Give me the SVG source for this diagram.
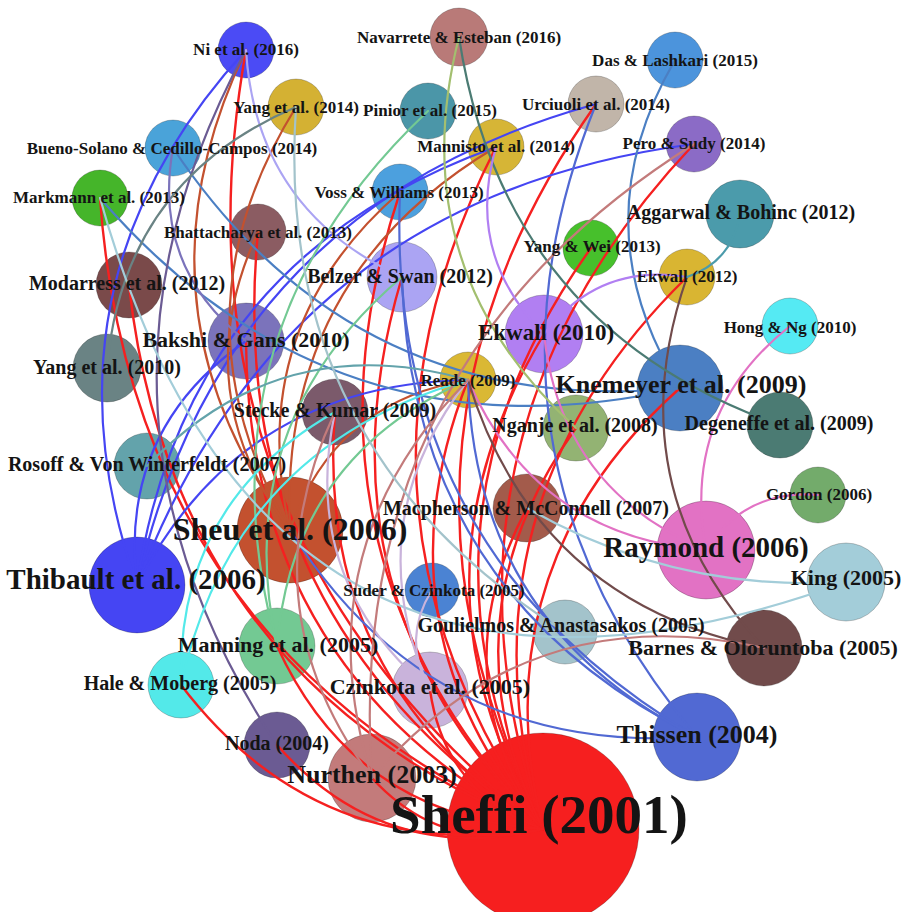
<svg xmlns="http://www.w3.org/2000/svg" width="904" height="912" viewBox="0 0 904 912">
<style>
.bg{fill:#ffffff}
.node circle{stroke:rgba(0,0,0,0.22);stroke-width:1}
.e{fill:none;stroke-width:2.2;stroke-linecap:round}
.red{stroke:#f52020;stroke-width:2.4}
.thi{stroke:#4545f3}
.sheu{stroke:#c3512f}
.kne{stroke:#4b7fc3}
.this{stroke:#5169d3}
.ray{stroke:#e272c4}
.bar{stroke:#714b4b}
.deg{stroke:#4b7b73}
.nga{stroke:#a3bf6f}
.noda{stroke:#6b5b93}
.bel{stroke:#aba4f3}
.man{stroke:#73c993}
.hale{stroke:#53e9e9}
.ros{stroke:#63a3ab}
.y10{stroke:#6a8384}
.king{stroke:#a3cdd9}
.czi{stroke:#c9b3db}
.nur{stroke:#c37b7b}
.ek10{stroke:#b17ff2}
.agg{stroke:#4b9bab}
.bak{stroke:#7b73bb}
.gou{stroke:#a3c3cb}
.lb{font-family:"Liberation Serif","Times New Roman",serif;font-weight:bold;fill:#141414;text-anchor:middle}
.s17{font-size:17px}.s20{font-size:20px}.s22{font-size:22px}.s23{font-size:23px}.s26{font-size:26px}.s29{font-size:29px}.s32{font-size:32px}.s55{font-size:55px}
</style>
<rect class="bg" x="0" y="0" width="904" height="912"/>
<g id="nodes">
<g id="node-ni" class="node"><circle cx="246" cy="50" r="28" fill="#4b4bf5"/></g>
<g id="node-yang2014" class="node"><circle cx="296" cy="107" r="28" fill="#d4b133"/></g>
<g id="node-navarrete" class="node"><circle cx="459" cy="37" r="29" fill="#b97a78"/></g>
<g id="node-pinior" class="node"><circle cx="428" cy="111" r="28" fill="#4b96a8"/></g>
<g id="node-urciuoli" class="node"><circle cx="596" cy="104" r="28" fill="#c1b5a9"/></g>
<g id="node-das" class="node"><circle cx="675" cy="60" r="28" fill="#4c94dc"/></g>
<g id="node-mannisto" class="node"><circle cx="496" cy="147" r="28" fill="#d6b536"/></g>
<g id="node-pero" class="node"><circle cx="694" cy="144" r="28" fill="#8b6bc6"/></g>
<g id="node-bueno" class="node"><circle cx="173" cy="148" r="28" fill="#4aa3d9"/></g>
<g id="node-markmann" class="node"><circle cx="100" cy="198" r="28" fill="#45b52a"/></g>
<g id="node-voss" class="node"><circle cx="400" cy="192" r="28" fill="#4ca0de"/></g>
<g id="node-bhattacharya" class="node"><circle cx="258" cy="232" r="28" fill="#8b5c62"/></g>
<g id="node-yangwei" class="node"><circle cx="591" cy="248" r="28" fill="#47c02c"/></g>
<g id="node-aggarwal" class="node"><circle cx="740" cy="214" r="34" fill="#4b9bab"/></g>
<g id="node-ekwall2012" class="node"><circle cx="687" cy="277" r="28" fill="#d9b532"/></g>
<g id="node-modarress" class="node"><circle cx="129" cy="285" r="33" fill="#7a4a4a"/></g>
<g id="node-belzer" class="node"><circle cx="402" cy="277" r="35" fill="#aba4f3"/></g>
<g id="node-ekwall2010" class="node"><circle cx="544" cy="334" r="39" fill="#b17ff2"/></g>
<g id="node-hongng" class="node"><circle cx="790" cy="326" r="28" fill="#55eaf3"/></g>
<g id="node-bakshi" class="node"><circle cx="246" cy="341" r="38" fill="#7b73bb"/></g>
<g id="node-yang2010" class="node"><circle cx="107" cy="368" r="34" fill="#6a8384"/></g>
<g id="node-reade" class="node"><circle cx="468" cy="380" r="28" fill="#dab834"/></g>
<g id="node-knemeyer" class="node"><circle cx="680" cy="388" r="43" fill="#4b7fc3"/></g>
<g id="node-stecke" class="node"><circle cx="335" cy="412" r="33" fill="#7b5a6b"/></g>
<g id="node-nganje" class="node"><circle cx="576" cy="428" r="33" fill="#93b373"/></g>
<g id="node-degeneffe" class="node"><circle cx="780" cy="425" r="33" fill="#4b7b73"/></g>
<g id="node-rosoff" class="node"><circle cx="147" cy="466" r="33" fill="#63a3ab"/></g>
<g id="node-macpherson" class="node"><circle cx="527" cy="508" r="34" fill="#a35b4b"/></g>
<g id="node-gordon" class="node"><circle cx="818" cy="495" r="28" fill="#73ab6b"/></g>
<g id="node-sheu" class="node"><circle cx="290" cy="530" r="53" fill="#c3512f"/></g>
<g id="node-raymond" class="node"><circle cx="706" cy="550" r="49" fill="#e272c4"/></g>
<g id="node-thibault" class="node"><circle cx="137" cy="585" r="48" fill="#4545f3"/></g>
<g id="node-king" class="node"><circle cx="846" cy="582" r="39" fill="#a3cdd9"/></g>
<g id="node-suder" class="node"><circle cx="432" cy="590" r="27" fill="#4b83d3"/></g>
<g id="node-goulielmos" class="node"><circle cx="565" cy="632" r="32" fill="#a3c3cb"/></g>
<g id="node-barnes" class="node"><circle cx="764" cy="648" r="38" fill="#714b4b"/></g>
<g id="node-manning" class="node"><circle cx="277" cy="646" r="38" fill="#73c993"/></g>
<g id="node-hale" class="node"><circle cx="181" cy="685" r="33" fill="#53e9e9"/></g>
<g id="node-czinkota" class="node"><circle cx="430" cy="690" r="38" fill="#c9b3db"/></g>
<g id="node-thissen" class="node"><circle cx="697" cy="737" r="44" fill="#5169d3"/></g>
<g id="node-noda" class="node"><circle cx="277" cy="745" r="33" fill="#6b5b93"/></g>
<g id="node-nurthen" class="node"><circle cx="372" cy="778" r="44" fill="#c37b7b"/></g>
<g id="node-sheffi" class="node"><circle cx="543" cy="829" r="96" fill="#f61f1f"/></g>
</g>
<g id="connectors">
<path class="e red" d="M543 829 Q160.8 528.6 246 50"/>
<path class="e red" d="M543 829 Q132.2 646.4 100 198"/>
<path class="e red" d="M543 829 Q172.8 681.2 129 285"/>
<path class="e red" d="M543 829 Q221.4 616 258 232"/>
<path class="e red" d="M543 829 Q314.9 502.1 496 147"/>
<path class="e red" d="M543 829 Q352 450.6 596 104"/>
<path class="e red" d="M543 829 Q413 441.2 694 144"/>
<path class="e red" d="M543 829 Q392.7 524.1 591 248"/>
<path class="e red" d="M543 829 Q449.4 509.8 687 277"/>
<path class="e red" d="M543 829 Q479.2 567.4 680 388"/>
<path class="e red" d="M543 829 Q395 581.2 544 334"/>
<path class="e red" d="M543 829 Q370.8 627 468 380"/>
<path class="e red" d="M543 829 Q313.9 682.9 335 412"/>
<path class="e red" d="M543 829 Q306.9 595.3 402 277"/>
<path class="e red" d="M543 829 Q318.8 865.6 181 685"/>
<path class="e red" d="M543 829 Q384.8 866.8 277 745"/>
<path class="e red" d="M543 829 Q442.2 854.8 372 778"/>
<path class="e red" d="M543 829 Q248.1 674.1 246 341"/>
<path class="e red" d="M543 829 Q280.4 553.4 400 192"/>
<path class="e red" d="M543 829 Q444.8 793.4 430 690"/>
<path class="e red" d="M543 829 Q438.7 673.3 527 508"/>
<path class="e red" d="M543 829 Q439.2 618.6 576 428"/>
<path class="e red" d="M543 829 Q355.1 817.3 277 646"/>
<path class="e thi" d="M137 585 Q31 284.8 246 50"/>
<path class="e thi" d="M137 585 Q222.2 206.8 596 104"/>
<path class="e thi" d="M137 585 Q283.2 197.4 694 144"/>
<path class="e thi" d="M137 585 Q118.3 430.3 246 341"/>
<path class="e thi" d="M137 585 Q241 383.2 468 380"/>
<path class="e thi" d="M137 585 Q185.1 258.3 496 147"/>
<path class="e sheu" d="M290 530 Q124 303.2 246 50"/>
<path class="e sheu" d="M290 530 Q166.1 316.7 296 107"/>
<path class="e sheu" d="M290 530 Q184.6 390.6 258 232"/>
<path class="e sheu" d="M290 530 Q243.6 328 400 192"/>
<path class="e sheu" d="M290 530 Q334 401.6 468 380"/>
<path class="e sheu" d="M290 530 Q278.1 276.7 496 147"/>
<path class="e kne" d="M680 388 Q579.1 225.5 675 60"/>
<path class="e kne" d="M680 388 Q354.5 420.1 173 148"/>
<path class="e kne" d="M680 388 Q333 467 100 198"/>
<path class="e this" d="M697 737 Q411.5 595.5 402 277"/>
<path class="e this" d="M697 737 Q385 553.6 400 192"/>
<path class="e this" d="M697 737 Q456.6 450.8 596 104"/>
<path class="e this" d="M697 737 Q431.4 755.6 290 530"/>
<path class="e this" d="M697 737 Q475.4 627.2 468 380"/>
<path class="e ray" d="M706 550 Q680.8 412.8 790 326"/>
<path class="e ray" d="M706 550 Q745.5 488.9 818 495"/>
<path class="e ray" d="M706 550 Q560.4 489.8 544 334"/>
<path class="e ray" d="M706 550 Q536 536.4 468 380"/>
<path class="e bar" d="M764 648 Q614.2 485.6 687 277"/>
<path class="e bar" d="M764 648 Q535.6 602.8 468 380"/>
<path class="e deg" d="M780 425 Q503 327.3 459 37"/>
<path class="e nga" d="M576 428 Q400.2 267.6 459 37"/>
<path class="e noda" d="M277 745 Q53 406.8 246 50"/>
<path class="e bel" d="M402 277 Q255.9 210.3 246 50"/>
<path class="e man" d="M277 646 Q192 333.2 428 111"/>
<path class="e man" d="M277 646 Q292.7 455.7 468 380"/>
<path class="e man" d="M277 646 Q228.8 424 402 277"/>
<path class="e hale" d="M181 685 Q233 446.4 468 380"/>
<path class="e hale" d="M181 685 Q176.1 502.3 335 412"/>
<path class="e ros" d="M147 466 Q281.7 326.7 468 380"/>
<path class="e y10" d="M107 368 Q123 180.8 296 107"/>
<path class="e king" d="M846 582 Q265.6 792.8 100 198"/>
<path class="e king" d="M846 582 Q675.4 592.9 527 508"/>
<path class="e czi" d="M430 690 Q401 639.4 432 590"/>
<path class="e czi" d="M430 690 Q356 523.6 468 380"/>
<path class="e czi" d="M430 690 Q299.1 579.5 335 412"/>
<path class="e nur" d="M372 778 Q300.6 550.2 468 380"/>
<path class="e nur" d="M372 778 Q529 595.4 764 648"/>
<path class="e nur" d="M372 778 Q342.8 364.4 694 144"/>
<path class="e nur" d="M372 778 Q243.7 606 335 412"/>
<path class="e ek10" d="M544 334 Q464.7 254.7 496 147"/>
<path class="e ek10" d="M544 334 Q598.4 262.6 687 277"/>
<path class="e agg" d="M740 214 Q732.4 261.4 687 277"/>
<path class="e bak" d="M246 341 Q151.6 266.4 173 148"/>
<path class="e gou" d="M565 632 Q273 450 296 107"/>
</g>
<g id="labels">
<text id="label-ni" class="lb s17" x="246" y="55">Ni et al. (2016)</text>
<text id="label-yang2014" class="lb s17" x="296" y="113">Yang et al. (2014)</text>
<text id="label-navarrete" class="lb s17" x="459" y="43">Navarrete &amp; Esteban (2016)</text>
<text id="label-pinior" class="lb s17" x="430" y="116">Pinior et al. (2015)</text>
<text id="label-urciuoli" class="lb s17" x="596" y="110">Urciuoli et al. (2014)</text>
<text id="label-das" class="lb s17" x="675" y="66">Das &amp; Lashkari (2015)</text>
<text id="label-mannisto" class="lb s17" x="496" y="152">Mannisto et al. (2014)</text>
<text id="label-pero" class="lb s17" x="694" y="149">Pero &amp; Sudy (2014)</text>
<text id="label-bueno" class="lb s17" x="172" y="154">Bueno-Solano &amp; Cedillo-Campos (2014)</text>
<text id="label-markmann" class="lb s17" x="99" y="203">Markmann et al. (2013)</text>
<text id="label-voss" class="lb s17" x="399" y="198">Voss &amp; Williams (2013)</text>
<text id="label-bhattacharya" class="lb s17" x="258" y="238">Bhattacharya et al. (2013)</text>
<text id="label-yangwei" class="lb s17" x="592" y="252">Yang &amp; Wei (2013)</text>
<text id="label-aggarwal" class="lb s20" x="741" y="219">Aggarwal &amp; Bohinc (2012)</text>
<text id="label-ekwall2012" class="lb s17" x="687" y="282">Ekwall (2012)</text>
<text id="label-modarress" class="lb s20" x="127" y="290">Modarress et al. (2012)</text>
<text id="label-belzer" class="lb s20" x="400" y="283">Belzer &amp; Swan (2012)</text>
<text id="label-ekwall2010" class="lb s23" x="546" y="340">Ekwall (2010)</text>
<text id="label-hongng" class="lb s17" x="790" y="333">Hong &amp; Ng (2010)</text>
<text id="label-bakshi" class="lb s22" x="246" y="347">Bakshi &amp; Gans (2010)</text>
<text id="label-yang2010" class="lb s20" x="107" y="374">Yang et al. (2010)</text>
<text id="label-reade" class="lb s17" x="468" y="386">Reade (2009)</text>
<text id="label-knemeyer" class="lb s26" x="681" y="393">Knemeyer et al. (2009)</text>
<text id="label-stecke" class="lb s20" x="335" y="417">Stecke &amp; Kumar (2009)</text>
<text id="label-nganje" class="lb s20" x="575" y="432">Nganje et al. (2008)</text>
<text id="label-degeneffe" class="lb s20" x="779" y="430">Degeneffe et al. (2009)</text>
<text id="label-rosoff" class="lb s20" x="147" y="471">Rosoff &amp; Von Winterfeldt (2007)</text>
<text id="label-macpherson" class="lb s20" x="526" y="515">Macpherson &amp; McConnell (2007)</text>
<text id="label-gordon" class="lb s17" x="819" y="500">Gordon (2006)</text>
<text id="label-sheu" class="lb s32" x="290" y="540">Sheu et al. (2006)</text>
<text id="label-raymond" class="lb s29" x="706" y="557">Raymond (2006)</text>
<text id="label-thibault" class="lb s29" x="136" y="589">Thibault et al. (2006)</text>
<text id="label-king" class="lb s22" x="846" y="585">King (2005)</text>
<text id="label-suder" class="lb s17" x="434" y="596">Suder &amp; Czinkota (2005)</text>
<text id="label-goulielmos" class="lb s20" x="561" y="632">Goulielmos &amp; Anastasakos (2005)</text>
<text id="label-barnes" class="lb s22" x="763" y="655">Barnes &amp; Oloruntoba (2005)</text>
<text id="label-manning" class="lb s22" x="278" y="652">Manning et al. (2005)</text>
<text id="label-hale" class="lb s20" x="180" y="690">Hale &amp; Moberg (2005)</text>
<text id="label-czinkota" class="lb s22" x="430" y="694">Czinkota et al. (2005)</text>
<text id="label-thissen" class="lb s26" x="697" y="743">Thissen (2004)</text>
<text id="label-noda" class="lb s20" x="277" y="750">Noda (2004)</text>
<text id="label-nurthen" class="lb s26" x="372" y="783">Nurthen (2003)</text>
<text id="label-sheffi" class="lb s55" x="539" y="833">Sheffi (2001)</text>
</g>
</svg>
